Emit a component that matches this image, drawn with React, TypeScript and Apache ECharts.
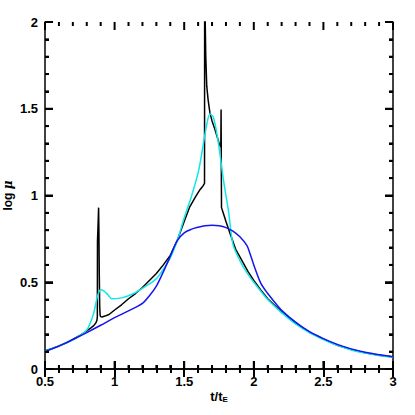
import React, { useEffect, useRef } from "react";
import * as echarts from "echarts";

const xTicks = ["0.5", "1", "1.5", "2", "2.5", "3"];
const yTicks = ["0", "0.5", "1", "1.5", "2"];
const xMajor = [0.5, 1, 1.5, 2, 2.5, 3];
const xMinor = [0.6, 0.7, 0.8, 0.9, 1.1, 1.2, 1.3, 1.4, 1.6, 1.7, 1.8, 1.9, 2.1, 2.2, 2.3, 2.4, 2.6, 2.7, 2.8, 2.9];
const yMajor = [0, 0.5, 1, 1.5, 2];
const yMinor = [0.1, 0.2, 0.3, 0.4, 0.6, 0.7, 0.8, 0.9, 1.1, 1.2, 1.3, 1.4, 1.6, 1.7, 1.8, 1.9];

const blueT = [0.5, 0.6, 0.7, 0.8, 0.9, 1.0, 1.1, 1.2, 1.25, 1.3, 1.35, 1.4, 1.45, 1.5, 1.55, 1.6, 1.65, 1.7, 1.75, 1.8, 1.85, 1.9, 1.95, 1.97, 2.0, 2.05, 2.1, 2.15, 2.2, 2.3, 2.4, 2.5, 2.6, 2.7, 2.8, 2.9, 3.0];
const blueV = [0.1, 0.132, 0.17, 0.21, 0.252, 0.296, 0.335, 0.378, 0.422, 0.478, 0.56, 0.65, 0.74, 0.785, 0.805, 0.817, 0.826, 0.828, 0.825, 0.815, 0.795, 0.762, 0.712, 0.672, 0.6, 0.495, 0.435, 0.385, 0.338, 0.27, 0.215, 0.175, 0.142, 0.116, 0.096, 0.082, 0.071];

const cyanT = [0.5, 0.6, 0.7, 0.75, 0.8, 0.83, 0.85, 0.87, 0.885, 0.9, 0.92, 0.95, 0.98, 1.05, 1.1, 1.15, 1.2, 1.25, 1.3, 1.35, 1.4, 1.45, 1.5, 1.55, 1.6, 1.63, 1.66, 1.685, 1.71, 1.74, 1.76, 1.78, 1.8, 1.82, 1.85, 1.9, 1.95, 2.0, 2.1, 2.2, 2.3, 2.4, 2.5, 2.6, 2.7, 2.8, 2.9, 3.0];
const cyanV = [0.103, 0.132, 0.168, 0.192, 0.225, 0.275, 0.322, 0.395, 0.44, 0.457, 0.452, 0.43, 0.405, 0.41, 0.422, 0.44, 0.465, 0.49, 0.52, 0.575, 0.64, 0.74, 0.87, 0.99, 1.13, 1.26, 1.4, 1.47, 1.45, 1.33, 1.22, 1.1, 1.0, 0.9, 0.72, 0.625, 0.555, 0.5, 0.4, 0.325, 0.26, 0.21, 0.17, 0.136, 0.11, 0.092, 0.078, 0.068];

const blackT = [0.5, 0.55, 0.6, 0.65, 0.7, 0.75, 0.8, 0.83, 0.85, 0.865, 0.873, 0.876, 0.877, 0.882, 0.885, 0.887, 0.89, 0.893, 0.896, 0.9, 0.91, 0.93, 0.96, 1.0, 1.05, 1.1, 1.15, 1.2, 1.25, 1.3, 1.35, 1.4, 1.45, 1.5, 1.54, 1.58, 1.61, 1.635, 1.646, 1.647, 1.651, 1.655, 1.662, 1.672, 1.685, 1.7, 1.721, 1.74, 1.755, 1.763, 1.765, 1.768, 1.78, 1.8, 1.83, 1.87, 1.925, 1.96, 2.0, 2.05, 2.1, 2.2, 2.3, 2.4, 2.5, 2.6, 2.7, 2.8, 2.9, 3.0];
const blackV = [0.104, 0.118, 0.133, 0.15, 0.17, 0.193, 0.22, 0.237, 0.25, 0.265, 0.28, 0.3, 0.735, 0.85, 0.93, 0.82, 0.55, 0.36, 0.31, 0.302, 0.3, 0.305, 0.314, 0.34, 0.37, 0.405, 0.435, 0.47, 0.51, 0.55, 0.6, 0.655, 0.74, 0.85, 0.935, 0.99, 1.03, 1.055, 1.07, 2.3, 2.0, 1.8, 1.63, 1.55, 1.476, 1.43, 1.38, 1.33, 1.29, 1.28, 1.495, 0.93, 0.9, 0.85, 0.78, 0.69, 0.61, 0.56, 0.51, 0.455, 0.405, 0.328, 0.263, 0.212, 0.172, 0.137, 0.112, 0.093, 0.079, 0.069];

const pairs = (t: number[], v: number[]) => t.map((x, i) => [x, v[i]]);

export default function App() {
  const ref = useRef<HTMLDivElement>(null);
  useEffect(() => {
    if (!ref.current) return;
    const chart = echarts.init(ref.current, null, { renderer: "svg" });
    const font = "Liberation Sans";
    const line = { show: true, lineStyle: { color: "#000", width: 1.5 } };
    const tick = { show: true, inside: true, length: 8, lineStyle: { color: "#000", width: 2 } };
    const minor = { show: true, splitNumber: 5, length: 4, lineStyle: { color: "#000", width: 2 } };
    const xMin = 0.5, xMax = 3, yMin = 0, yMax = 2;
    const xTickData = [...xMajor.map((v) => [v, 1]), ...xMinor.map((v) => [v, 0])];
    const yTickData = [...yMajor.map((v) => [v, 1]), ...yMinor.map((v) => [v, 0])];
    chart.setOption({
      animation: false,
      grid: { left: 45, right: 22, top: 22, bottom: 46, outerBoundsMode: "none" },
      xAxis: [
        {
          type: "value", min: xMin, max: xMax, interval: 0.5, position: "bottom",
          axisLine: line, axisTick: tick, minorTick: minor, splitLine: { show: false },
          axisLabel: {
            color: "#000", fontFamily: font, fontWeight: "bold", fontSize: 13, margin: 6,
            formatter: (v: number) => xTicks[Math.round((v - 0.5) / 0.5)] ?? "",
          },
          name: "t/t{sub|E}",
          nameLocation: "middle",
          nameGap: 20,
          nameMoveOverlap: false,
          nameTextStyle: {
            color: "#000", fontFamily: font, fontWeight: "bold", fontSize: 13,
            rich: { sub: { fontFamily: font, fontWeight: "bold", fontSize: 8, verticalAlign: "bottom", padding: [6, 0, 0, 0] } },
          },
        },
        {
          type: "value", min: xMin, max: xMax, interval: 0.5, position: "top",
          axisLine: line, axisTick: tick, minorTick: minor, splitLine: { show: false }, axisLabel: { show: false },
        },
      ],
      yAxis: [
        {
          type: "value", min: yMin, max: yMax, interval: 0.5, position: "left",
          axisLine: line, axisTick: tick, minorTick: minor, splitLine: { show: false },
          axisLabel: {
            color: "#000", fontFamily: font, fontWeight: "bold", fontSize: 13, margin: 7,
            formatter: (v: number) => yTicks[Math.round(v / 0.5)] ?? "",
          },
          name: "log {mu|μ}",
          nameLocation: "middle",
          nameGap: 31,
          nameRotate: 90,
          nameMoveOverlap: false,
          nameTextStyle: {
            color: "#000", fontFamily: font, fontWeight: "bold", fontSize: 12,
            rich: { mu: { fontFamily: "DejaVu Serif", fontStyle: "italic", fontWeight: "bold", fontSize: 12 } },
          },
        },
        {
          type: "value", min: yMin, max: yMax, interval: 0.5, position: "right",
          axisLine: line, axisTick: tick, minorTick: minor, splitLine: { show: false }, axisLabel: { show: false },
        },
      ],
      series: [
        {
          type: "line", data: pairs(blackT, blackV), showSymbol: false, symbol: "none", clip: true,
          lineStyle: { color: "#000", width: 1.5 }, xAxisIndex: 0, yAxisIndex: 0, silent: true,
        },
        {
          type: "line", data: pairs(cyanT, cyanV), showSymbol: false, symbol: "none", smooth: 0.3, clip: true,
          lineStyle: { color: "#10e6e6", width: 1.5 }, xAxisIndex: 0, yAxisIndex: 0, silent: true,
        },
        {
          type: "line", data: pairs(blueT, blueV), showSymbol: false, symbol: "none", smooth: 0.3, clip: true,
          lineStyle: { color: "#1414f0", width: 1.5 }, xAxisIndex: 0, yAxisIndex: 0, silent: true,
        },
        {
          type: "custom", silent: true, clip: false, xAxisIndex: 0, yAxisIndex: 0, z: 5,
          data: xTickData,
          renderItem: (_p: any, api: any) => {
            const v = api.value(0);
            const len = api.value(1) === 1 ? 8 : 4;
            const b = api.coord([v, yMin]);
            const t = api.coord([v, yMax]);
            return {
              type: "group",
              children: [
                { type: "line", shape: { x1: b[0], y1: b[1], x2: b[0], y2: b[1] - len }, style: { stroke: "#000", lineWidth: 2 } },
                { type: "line", shape: { x1: t[0], y1: t[1], x2: t[0], y2: t[1] + len }, style: { stroke: "#000", lineWidth: 2 } },
              ],
            };
          },
        },
        {
          type: "custom", silent: true, clip: false, xAxisIndex: 0, yAxisIndex: 0, z: 5,
          data: yTickData,
          renderItem: (_p: any, api: any) => {
            const v = api.value(0);
            const len = api.value(1) === 1 ? 8 : 4;
            const l = api.coord([xMin, v]);
            const r = api.coord([xMax, v]);
            return {
              type: "group",
              children: [
                { type: "line", shape: { x1: l[0], y1: l[1], x2: l[0] + len, y2: l[1] }, style: { stroke: "#000", lineWidth: 2 } },
                { type: "line", shape: { x1: r[0], y1: r[1], x2: r[0] - len, y2: r[1] }, style: { stroke: "#000", lineWidth: 2 } },
              ],
            };
          },
        },
      ],
    });
    return () => chart.dispose();
  }, []);
  return <div ref={ref} style={{ width: 415, height: 415, position: "absolute", left: 0, top: 0 }} />;
}
